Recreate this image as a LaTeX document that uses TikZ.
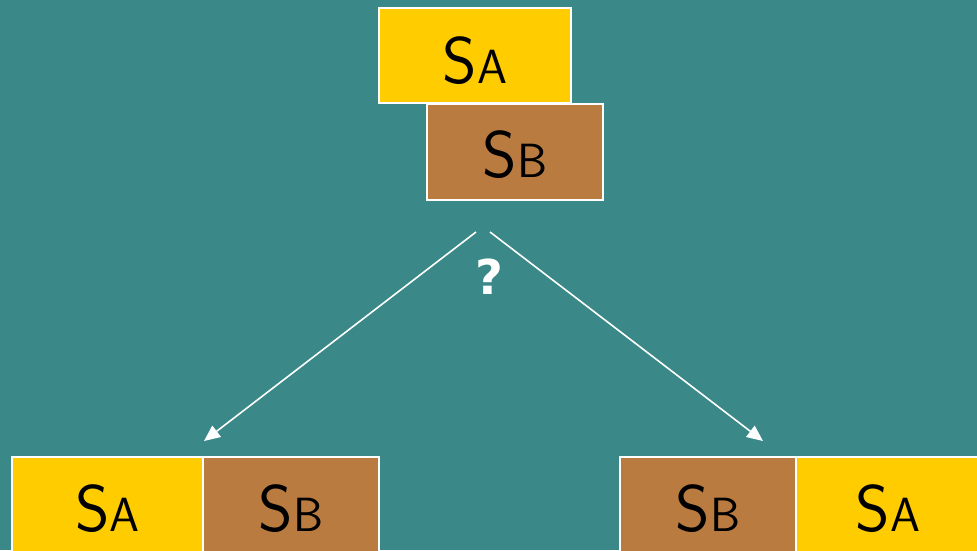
\documentclass[tikz,border=0pt]{standalone}
\usepackage{fontspec}
\newfontfamily\qfont{DejaVu Sans}
\usetikzlibrary{arrows.meta}
\definecolor{bgteal}{RGB}{58,136,136}
\definecolor{boxyellow}{RGB}{255,204,0}
\definecolor{boxbrown}{RGB}{186,123,64}
\newcommand{\slab}[1]{{\sffamily\fontsize{66}{66}\selectfont S\fontsize{48}{48}\selectfont #1}}
\tikzset{
  box/.style={draw=white, line width=1.5pt, inner sep=0pt, text=black, text depth=0pt},
  ybox/.style={box, fill=boxyellow},
  bbox/.style={box, fill=boxbrown},
  arr/.style={draw=white, line width=1.6pt, -{Triangle[length=16pt,width=14pt]}}
}
\begin{document}
\begin{tikzpicture}[x=1pt,y=-1pt]
\fill[bgteal] (0,0) rectangle (977,550);
\useasboundingbox (0,0) rectangle (977,550);
% top pair
\node[ybox, text height=55pt, minimum width=192pt, minimum height=95pt] (ta) at (475,55.5) {\slab{A}};
\node[bbox, text height=50pt, minimum width=176pt, minimum height=96pt] (tb) at (515,152) {\slab{B}};
% bottom left pair
\node[ybox, text height=48pt, minimum width=191pt, minimum height=100pt] (la) at (107.5,507) {\slab{A}};
\node[bbox, text height=48pt, minimum width=176pt, minimum height=100pt] (lb) at (291,507) {\slab{B}};
% bottom right pair
\node[bbox, text height=48pt, minimum width=176pt, minimum height=100pt] (rb) at (708,507) {\slab{B}};
\node[ybox, text height=48pt, minimum width=184pt, minimum height=100pt] (ra) at (888,507) {\slab{A}};
% arrows
\coordinate (s1) at (476,232);
\coordinate (s2) at (490,232);
\coordinate (e1) at (204,441);
\coordinate (e2) at (763,441);
\draw[arr] (s1) -- (e1);
\draw[arr] (s2) -- (e2);
\node[text=white, font=\qfont\bfseries\fontsize{48}{48}\selectfont, inner sep=0pt] (q) at (489,277) {?};
\end{tikzpicture}
\end{document}
